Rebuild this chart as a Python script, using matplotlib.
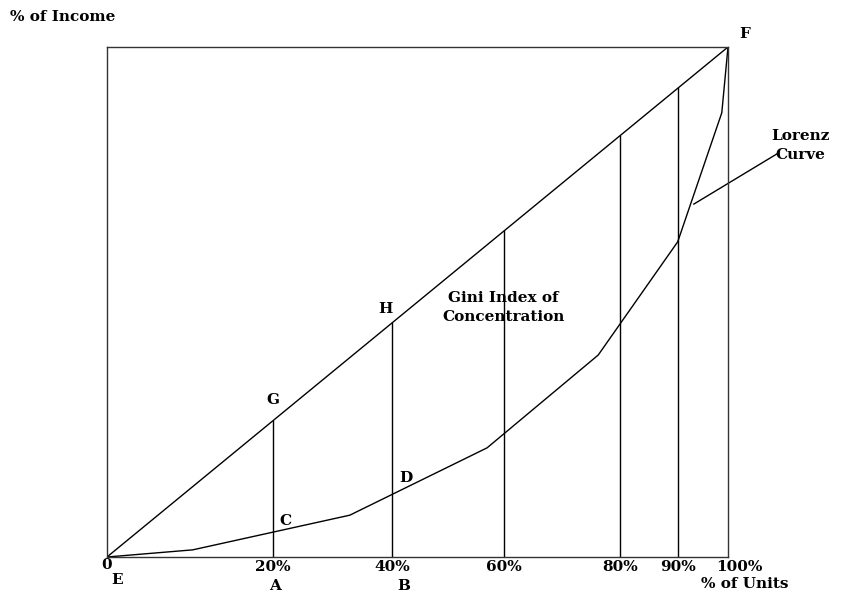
import matplotlib.pyplot as plt

# Lorenz curve (cumulative % of units, cumulative % of income)
lorenz_x = [0, 13.8, 39.1, 61.2, 79.1, 91.9, 99.0, 100]
lorenz_y = [0, 1.4, 8.2, 21.4, 39.6, 61.8, 87.1, 100]

# ordinates drawn up to the line of equal distribution
ord_x = [26.7, 45.9, 63.9, 82.6, 91.9]
ord_labels = ['20%', '40%', '60%', '80%', '90%']

plt.rcParams['font.family'] = ['DejaVu Serif']
plt.rcParams['font.weight'] = 'bold'

fig = plt.figure(figsize=(8.44, 5.93), dpi=100)
ax = fig.add_axes([107/844, 36/593, 621/844, 510/593])
ax.set_xlim(0, 100)
ax.set_ylim(0, 100)
ax.set_xticks([])
ax.set_yticks([])
for s in ax.spines.values():
    s.set_linewidth(1.0)
    s.set_color('#333333')

ax.plot([0, 100], [0, 100], color='black', lw=1.0)
ax.plot(lorenz_x, lorenz_y, color='black', lw=1.0)
for x in ord_x:
    ax.plot([x, x], [0, x], color='black', lw=1.0)

fs = 11
kw = dict(fontsize=fs, fontweight='bold', clip_on=False, ha='center', va='center')
for x, lab in zip(ord_x, ord_labels):
    ax.text(x, -2.0, lab, **kw)
ax.text(101.9, -2.0, '100%', **kw)
ax.text(0, -1.6, '0', **kw)
ax.text(1.6, -4.6, 'E', **kw)
ax.text(ord_x[0] + 0.3, -5.6, 'A', **kw)
ax.text(ord_x[1] + 1.9, -5.6, 'B', **kw)
ax.text(102.7, -5.2, '% of Units', **kw)
ax.text(-15.6, 105.9, '% of Income', fontsize=fs, fontweight='bold', ha='left', va='center')
ax.text(102.7, 102.5, 'F', **kw)
ax.text(26.7, 30.8, 'G', **kw)
ax.text(44.9, 48.6, 'H', **kw)
ax.text(28.8, 7.1, 'C', **kw)
ax.text(48.1, 15.5, 'D', **kw)
ax.text(63.8, 49.0, 'Gini Index of\nConcentration', linespacing=1.45, **kw)
ax.text(111.6, 80.6, 'Lorenz\nCurve', linespacing=1.45, **kw)
ax.plot([94.5, 108.1], [69.2, 79.2], color='black', lw=1.0, clip_on=False)

fig.savefig('out.png', dpi=100, facecolor='white')
